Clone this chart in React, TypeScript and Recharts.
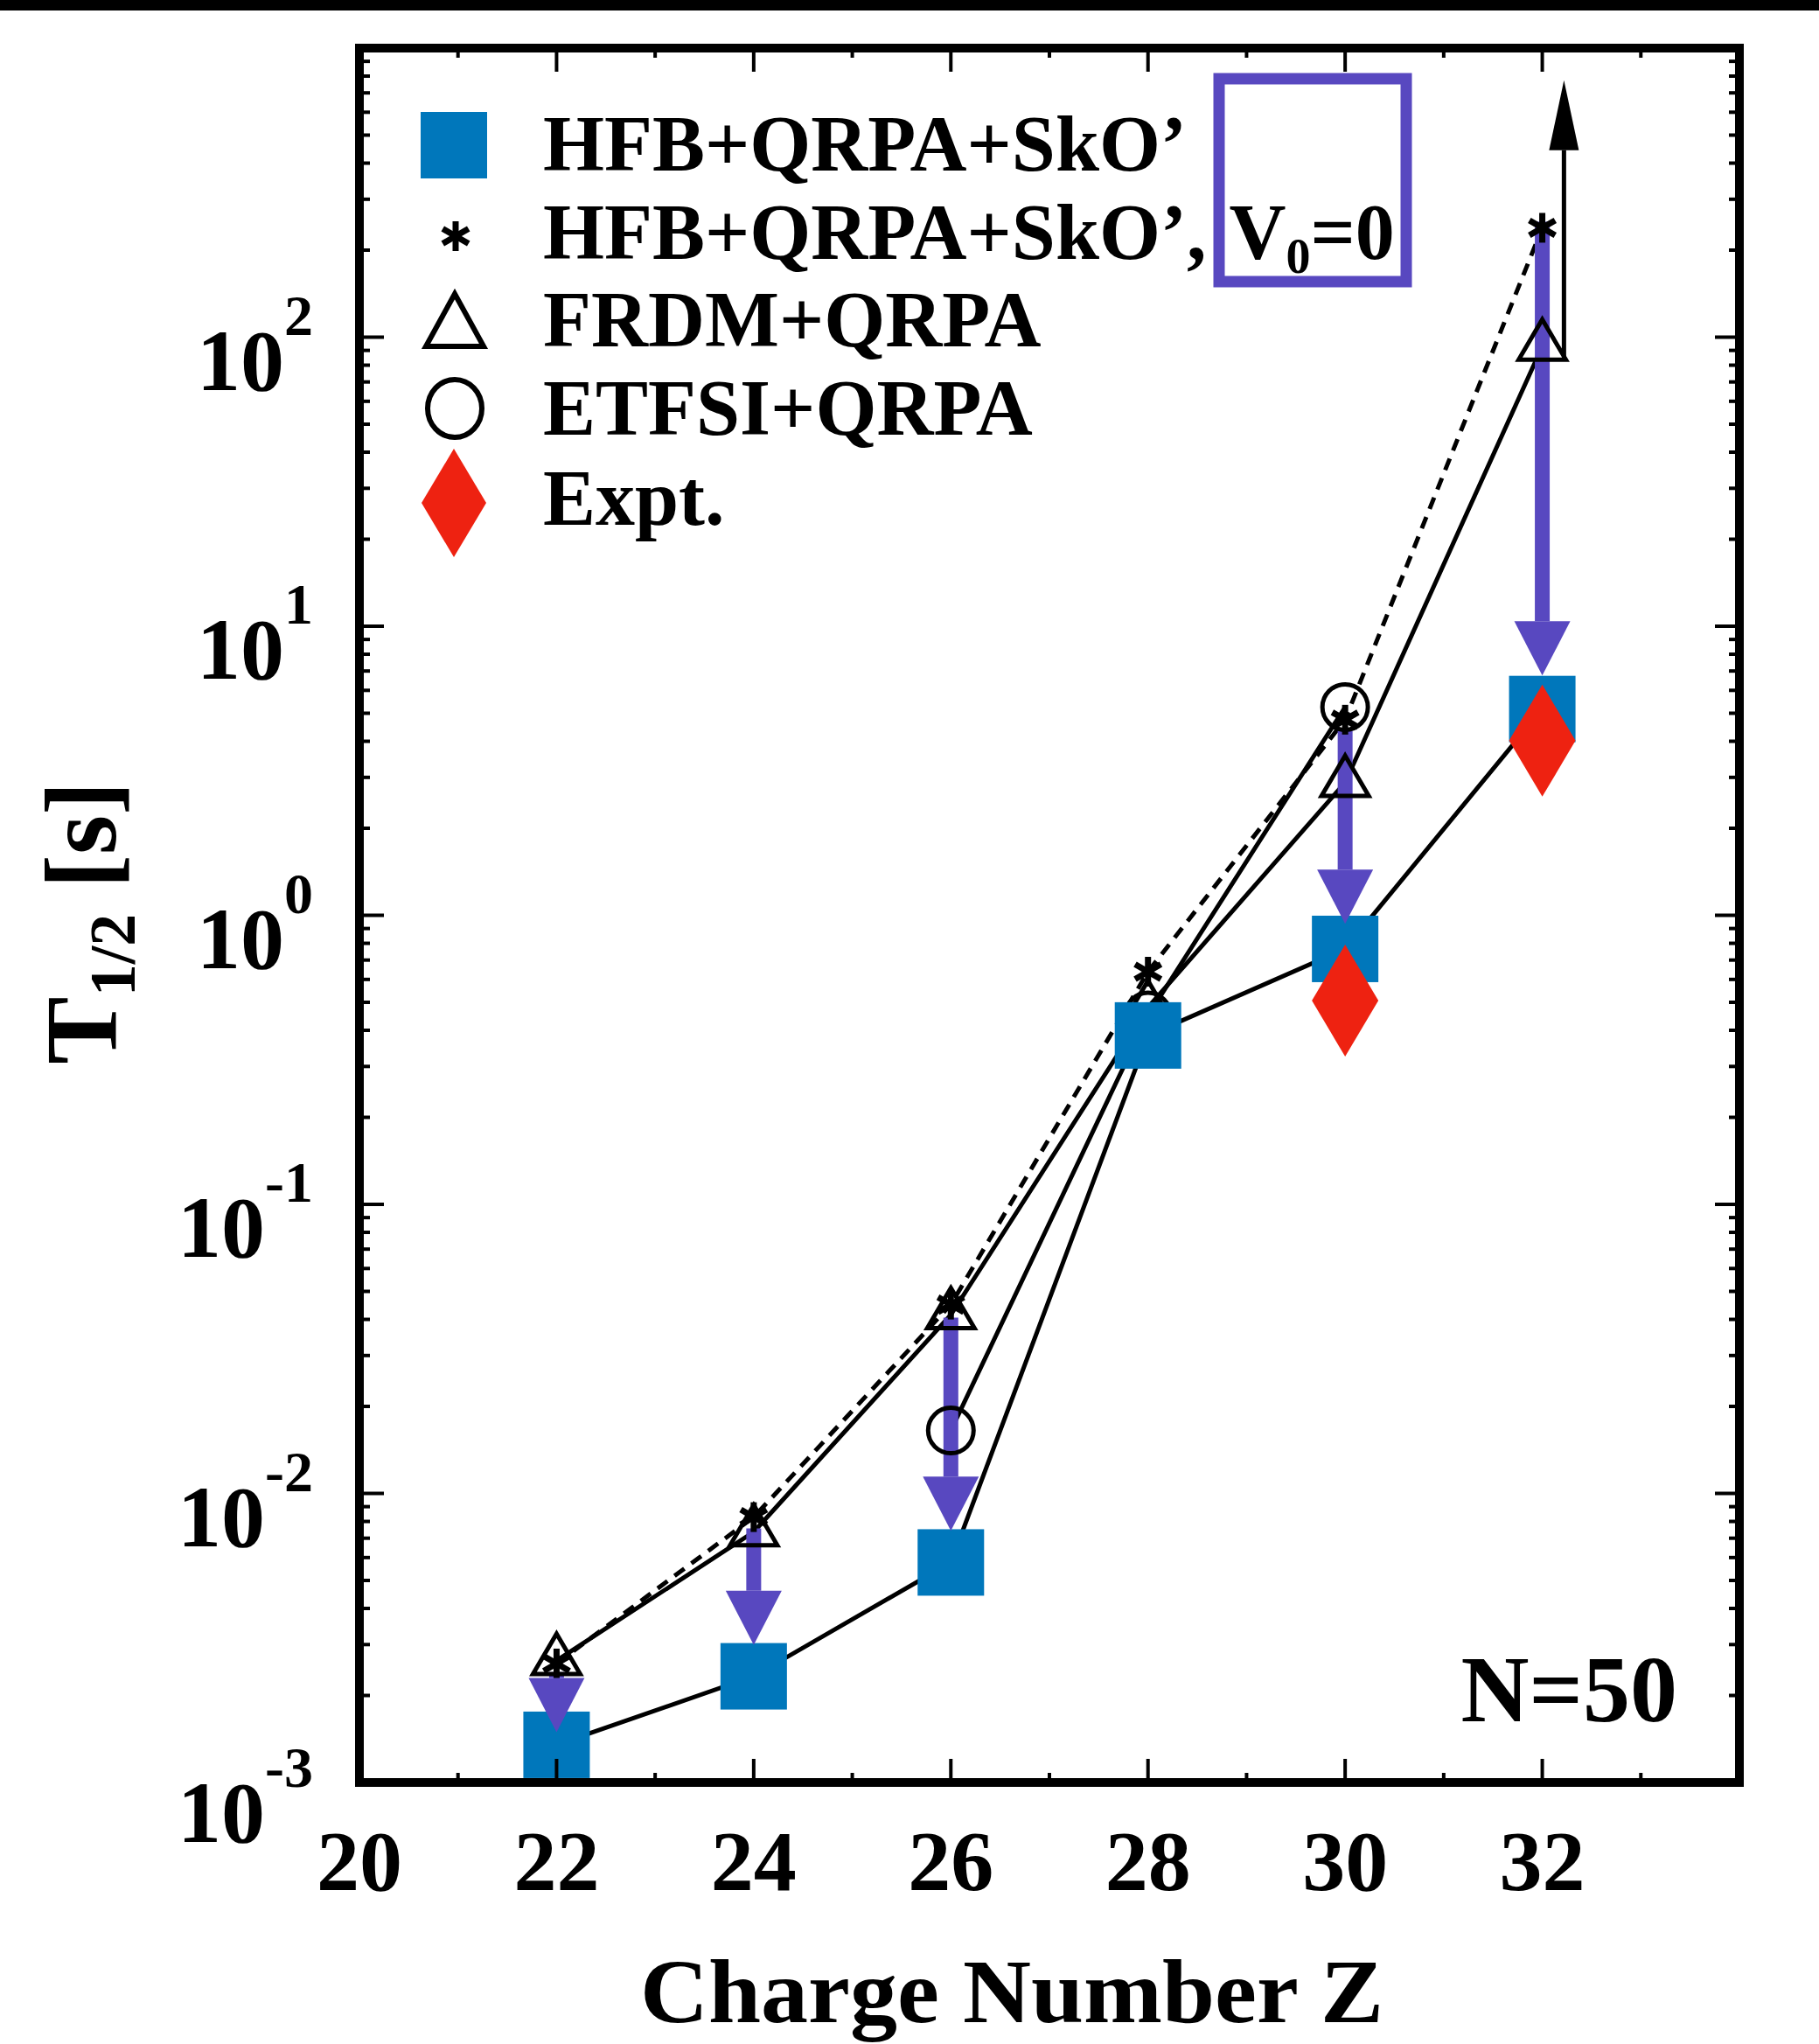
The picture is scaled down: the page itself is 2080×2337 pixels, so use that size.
import React from 'react';
import { ComposedChart, Line, XAxis, YAxis, ReferenceArea, Legend } from 'recharts';

const FONT = '"Liberation Serif", "Times New Roman", serif';
const BLUE = '#0077BB';
const RED = '#EE2211';
const PURPLE = '#5848C0';

// ---- data (charge number Z, half-life in seconds) ----
const hfbZ = [22, 24, 26, 28, 30, 32];
const hfbSkO = [1.35e-3, 2.33e-3, 5.77e-3, 0.384, 0.765, 5.17];
const v0Z = [22, 24, 26, 28, 30, 32];
const hfbV0 = [2.58e-3, 8.28e-3, 0.045, 0.638, 4.75, 239];
const frdmZ = [22, 24, 26, 28, 30, 32];
const frdm = [2.64e-3, 7.36e-3, 0.0415, 0.48, 2.88, 93];
const etfsiZ = [26, 28, 30];
const etfsi = [0.0165, 0.45, 5.25];
const exptZ = [30, 32];
const expt = [0.507, 4.02];
// purple annotation arrows (from V0=0 value down to the HFB square)
const arrowZ = [22, 24, 26, 30, 32];
const arrowFrom = [2.41e-3, 7.57e-3, 0.0406, 4.35, 251];
const arrowHeadBase = [2.3e-3, 4.61e-3, 0.01143, 1.44, 10.4];
// FRDM lower-limit arrow at Z=32
const limitZ = 32.22;
const limitFrom = 86;
const limitHeadBase = 443;

const xTicks = [20, 21, 22, 23, 24, 25, 26, 27, 28, 29, 30, 31, 32, 33];
const xLabelTicks = [20, 22, 24, 26, 28, 30, 32];
const yDecades = [-3, -2, -1, 0, 1, 2, 3];
const yLabelDecades = [-3, -2, -1, 0, 1, 2];

const legendItems = ['HFB+QRPA+SkO\u2019', 'HFB+QRPA+SkO\u2019,', 'FRDM+QRPA', 'ETFSI+QRPA', 'Expt.'];

const yTicks: number[] = [];
yDecades.forEach((d, i) => {
  if (i < yDecades.length - 1) {
    for (let m = 1; m < 10; m++) yTicks.push(Number((m * Math.pow(10, d)).toPrecision(6)));
  } else {
    yTicks.push(Math.pow(10, d));
  }
});

const mk = (zs: number[], vs: number[]) => zs.map((z, i) => ({ z, t: vs[i] }));
const hfbData = mk(hfbZ, hfbSkO);
const v0Data = mk(v0Z, hfbV0);
const frdmData = mk(frdmZ, frdm);
const etfsiData = mk(etfsiZ, etfsi);
const exptData = mk(exptZ, expt);
const arrowData = arrowZ.map((z, i) => [
  { z, t: arrowFrom[i] },
  { z, t: arrowHeadBase[i] },
]);
const limitData = [
  { z: limitZ, t: limitFrom },
  { z: limitZ, t: limitHeadBase },
];

const isMajor = (v: number) => {
  const e = Math.log10(v);
  return Math.abs(e - Math.round(e)) < 1e-6;
};

// ---- shapes ----
const squareDot = (p: any) => (
  <rect key={`sq-${p.index}`} x={p.cx - 38} y={p.cy - 38} width={76} height={76} fill={BLUE} />
);
const diamondDot = (p: any) => (
  <polygon
    key={`dm-${p.index}`}
    points={`${p.cx},${p.cy - 64} ${p.cx + 38},${p.cy} ${p.cx},${p.cy + 64} ${p.cx - 38},${p.cy}`}
    fill={RED}
  />
);
const triPath = (cx: number, cy: number, w: number, h: number) =>
  `M${cx},${cy - (h * 2) / 3} L${cx + w / 2},${cy + h / 3} L${cx - w / 2},${cy + h / 3} Z`;
const triangleDot = (p: any) => (
  <path key={`tr-${p.index}`} d={triPath(p.cx, p.cy, 54, 46)} fill="none" stroke="#000" strokeWidth={5} strokeLinejoin="miter" />
);
const circleDot = (p: any) => (
  <circle key={`ci-${p.index}`} cx={p.cx} cy={p.cy} r={26} fill="none" stroke="#000" strokeWidth={5} />
);
const Star = ({ cx, cy, s }: { cx: number; cy: number; s: number }) => {
  const lines = [90, 30, 150].map((a) => {
    const r = (a * Math.PI) / 180;
    return (
      <line
        key={a}
        x1={cx - Math.cos(r) * s}
        y1={cy - Math.sin(r) * s}
        x2={cx + Math.cos(r) * s}
        y2={cy + Math.sin(r) * s}
        stroke="#000"
        strokeWidth={7}
      />
    );
  });
  return <g>{lines}</g>;
};
const starDot = (p: any) => (
  <g key={`st-${p.index}`}>
    <Star cx={p.cx} cy={p.cy} s={17} />
  </g>
);
const arrowHeadDot = (p: any) =>
  p.index === 1 ? (
    <polygon
      key={`ah-${p.index}`}
      points={`${p.cx - 32},${p.cy} ${p.cx + 32},${p.cy} ${p.cx},${p.cy + 62}`}
      fill={PURPLE}
    />
  ) : (
    <g key={`ah-${p.index}`} />
  );
const limitHeadDot = (p: any) =>
  p.index === 1 ? (
    <polygon
      key={`lh-${p.index}`}
      points={`${p.cx - 17},${p.cy} ${p.cx + 17},${p.cy} ${p.cx},${p.cy - 80}`}
      fill="#000"
    />
  ) : (
    <g key={`lh-${p.index}`} />
  );

// ---- axis ticks ----
const XTickBottom = (props: any) => {
  const { x, y, payload } = props;
  const v = payload.value;
  const major = v % 2 === 0;
  const len = major ? 27 : 11;
  return (
    <g>
      {v > 20 && <line x1={x} x2={x} y1={y} y2={y - len} stroke="#000" strokeWidth={4} />}
      {xLabelTicks.includes(v) && (
        <text x={x} y={y + 123} textAnchor="middle" fontFamily={FONT} fontWeight={700} fontSize={98} fill="#000">
          {v}
        </text>
      )}
    </g>
  );
};
const XTickTop = (props: any) => {
  const { x, y, payload } = props;
  const v = payload.value;
  const major = v % 2 === 0;
  const len = major ? 27 : 11;
  if (v <= 20) return <g />;
  return <line x1={x} x2={x} y1={y} y2={y + len} stroke="#000" strokeWidth={4} />;
};
const YTickLeft = (props: any) => {
  const { x, y, payload } = props;
  const v = payload.value;
  const major = isMajor(v);
  const e = Math.round(Math.log10(v));
  const len = major ? 28 : 12;
  const edge = v <= 0.0010001 || v >= 999.9;
  const extra = e === -3 ? 8 : 0;
  return (
    <g>
      {!edge && <line x1={x} x2={x + len} y1={y} y2={y} stroke="#000" strokeWidth={4} />}
      {major && yLabelDecades.includes(e) && (
        <text x={x - 53} y={y + 60 + extra} textAnchor="end" fontFamily={FONT} fontWeight={700} fill="#000">
          <tspan fontSize={100}>10</tspan>
          <tspan fontSize={66} dy={-63}>
            {e < 0 ? `-${-e}` : `${e}`}
          </tspan>
        </text>
      )}
    </g>
  );
};
const YTickRight = (props: any) => {
  const { x, y, payload } = props;
  const v = payload.value;
  const major = isMajor(v);
  const len = major ? 28 : 12;
  const edge = v <= 0.0010001 || v >= 999.9;
  if (edge) return <g />;
  return <line x1={x} x2={x - len} y1={y} y2={y} stroke="#000" strokeWidth={4} />;
};

const XTitle = (props: any) => {
  const vb = props.viewBox || { x: 411, y: 2038, width: 1578 };
  return (
    <text
      x={vb.x + 746}
      y={vb.y + 274}
      textAnchor="middle"
      fontFamily={FONT}
      fontWeight={700}
      fontSize={104}
      textLength={850}
      lengthAdjust="spacingAndGlyphs"
      fill="#000"
    >
      Charge Number Z
    </text>
  );
};
const YTitle = (props: any) => {
  const vb = props.viewBox || { x: 410, y: 55, height: 1983 };
  const x = vb.x - 278;
  const y = vb.y + 1000;
  return (
    <text
      x={x}
      y={y}
      transform={`rotate(-90, ${x}, ${y})`}
      textAnchor="middle"
      fontFamily={FONT}
      fontWeight={700}
      fill="#000"
    >
      <tspan fontSize={116}>T</tspan>
      <tspan fontSize={74} dy={22}>
        1/2
      </tspan>
      <tspan fontSize={116} dy={-22}>
        {' [s]'}
      </tspan>
    </text>
  );
};

const LegendOverlay = () => {
  const tx = 621;
  const base = [195, 296, 396, 497, 600];
  const mx = 519;
  return (
    <svg width={2080} height={2337} style={{ display: 'block', pointerEvents: 'none' }}>
      <rect x={mx - 38} y={128} width={76} height={76} fill={BLUE} />
      <Star cx={mx + 2} cy={270} s={17} />
      <path d={triPath(mx + 1, 376, 66, 60)} fill="none" stroke="#000" strokeWidth={6} />
      <ellipse cx={mx + 1} cy={467} rx={31} ry={33} fill="none" stroke="#000" strokeWidth={6} />
      <polygon points={`${mx},${513} ${mx + 37},${575} ${mx},${637} ${mx - 37},${575}`} fill={RED} />
      {legendItems.map((t, i) => (
        <text key={i} x={tx} y={base[i]} fontFamily={FONT} fontWeight={700} fontSize={90} fill="#000">
          {t}
          {i === 1 && (
            <>
              <tspan dx={26}>V</tspan>
              <tspan fontSize={56} dy={16}>
                0
              </tspan>
              <tspan dy={-16}>=0</tspan>
            </>
          )}
        </text>
      ))}
      <rect x={1394} y={90} width={214} height={232} fill="none" stroke={PURPLE} strokeWidth={13} />
      <text x={1918} y={1968} textAnchor="end" fontFamily={FONT} fontWeight={700} fontSize={108} fill="#000">
        N=50
      </text>
    </svg>
  );
};

export default function App() {
  return (
    <div style={{ position: 'absolute', left: 0, top: 0, width: 2080, height: 2337, background: '#fff' }}>
      <div style={{ position: 'absolute', left: 0, top: 0, width: 2080, height: 12, background: '#000' }} />
      <ComposedChart width={2080} height={2337} margin={{ top: 54, right: 90, bottom: 298, left: 410 }}>
        <XAxis
          xAxisId="b"
          dataKey="z"
          type="number"
          domain={[20, 34]}
          ticks={xTicks}
          interval={0}
          height={1}
          tickSize={0}
          tickMargin={0}
          tickLine={false}
          axisLine={false}
          tick={<XTickBottom />}
          label={<XTitle />}
          allowDataOverflow
        />
        <XAxis
          xAxisId="top"
          orientation="top"
          dataKey="z"
          type="number"
          domain={[20, 34]}
          ticks={xTicks}
          interval={0}
          height={1}
          tickSize={0}
          tickMargin={0}
          tickLine={false}
          axisLine={false}
          tick={<XTickTop />}
          allowDataOverflow
        />
        <YAxis
          yAxisId="l"
          dataKey="t"
          type="number"
          scale="log"
          domain={[0.001, 1000]}
          ticks={yTicks}
          interval={0}
          width={1}
          tickSize={0}
          tickMargin={0}
          tickLine={false}
          axisLine={false}
          tick={<YTickLeft />}
          label={<YTitle />}
          allowDataOverflow
        />
        <YAxis
          yAxisId="r"
          orientation="right"
          dataKey="t"
          type="number"
          scale="log"
          domain={[0.001, 1000]}
          ticks={yTicks}
          interval={0}
          width={1}
          tickSize={0}
          tickMargin={0}
          tickLine={false}
          axisLine={false}
          tick={<YTickRight />}
          allowDataOverflow
        />
        <ReferenceArea
          xAxisId="b"
          yAxisId="l"
          x1={20}
          x2={34}
          y1={0.001}
          y2={1000}
          fill="none"
          fillOpacity={0}
          stroke="#000"
          strokeWidth={10}
          ifOverflow="visible"
        />
        <Line xAxisId="b" yAxisId="l" data={v0Data} dataKey="t" stroke="#000" strokeWidth={5} strokeDasharray="14 10" dot={starDot} activeDot={false} isAnimationActive={false} legendType="none" />
        <Line xAxisId="b" yAxisId="l" data={frdmData} dataKey="t" stroke="#000" strokeWidth={5} dot={triangleDot} activeDot={false} isAnimationActive={false} legendType="none" />
        <Line xAxisId="b" yAxisId="l" data={etfsiData} dataKey="t" stroke="#000" strokeWidth={5} dot={circleDot} activeDot={false} isAnimationActive={false} legendType="none" />
        <Line xAxisId="b" yAxisId="l" data={limitData} dataKey="t" stroke="#000" strokeWidth={5} dot={limitHeadDot} activeDot={false} isAnimationActive={false} legendType="none" />
        <Line xAxisId="b" yAxisId="l" data={hfbData} dataKey="t" stroke="#000" strokeWidth={5} dot={squareDot} activeDot={false} isAnimationActive={false} legendType="none" />
        <Line xAxisId="b" yAxisId="l" data={exptData} dataKey="t" stroke="none" dot={diamondDot} activeDot={false} isAnimationActive={false} legendType="none" />
        {arrowData.map((d, i) => (
          <Line
            key={`arrow-${i}`}
            xAxisId="b"
            yAxisId="l"
            data={d}
            dataKey="t"
            stroke={PURPLE}
            strokeWidth={17}
            strokeLinecap="butt"
            dot={arrowHeadDot}
            activeDot={false}
            isAnimationActive={false}
            legendType="none"
          />
        ))}
        <Legend
          content={() => <LegendOverlay />}
          layout="vertical"
          align="center"
          verticalAlign="middle"
          wrapperStyle={{ left: 0, top: 0, width: 2080, height: 2337, pointerEvents: 'none', margin: 0, padding: 0 }}
        />
      </ComposedChart>
    </div>
  );
}
